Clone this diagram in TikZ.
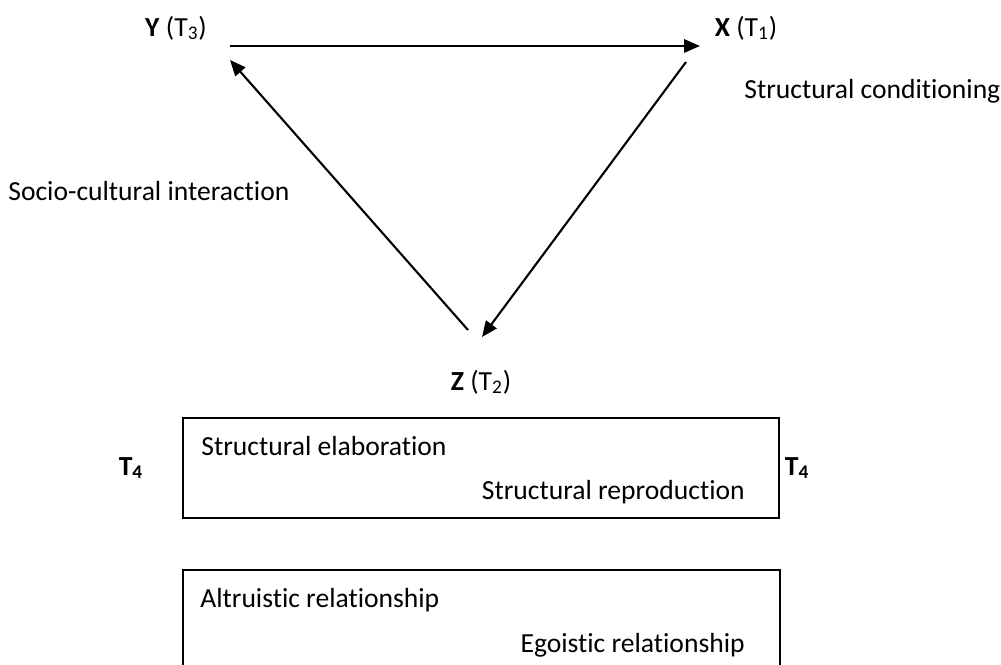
\documentclass[tikz,border=0pt]{standalone}
\usepackage{fontspec}
\setmainfont{Carlito}[Ligatures=NoCommon]
\usetikzlibrary{arrows.meta, positioning}

\tikzset{
  lbl/.style={inner sep=0pt, font=\fontsize{15.7}{18}\selectfont},
  tri/.style={line width=1.2pt, -{Triangle[length=9pt, width=7.5pt]}},
  bx/.style={draw, line width=0.9pt}
}

\begin{document}
\begin{tikzpicture}[x=0.02cm, y=-0.02cm]
\clip (0,0) rectangle (1001,665);
\useasboundingbox (0,0) rectangle (1001,665);
% vertices of the triangle
\node[lbl] (Y) at (176,28) {\textbf{Y} (T\textsubscript{3})};
\node[lbl] (X) at (746,28) {\textbf{X} (T\textsubscript{1})};
\node[lbl] (Z) at (481,382) {\textbf{Z} (T\textsubscript{2})};
\coordinate (ya) at (230,46);
\coordinate (yb) at (230,60);
\coordinate (xa) at (700,46);
\coordinate (xb) at (686,62);
\coordinate (za) at (482,337);
\coordinate (zb) at (468,330);
\draw[tri] (ya) -- (xa);
\draw[tri] (xb) -- (za);
\draw[tri] (zb) -- (yb);
\node[lbl, anchor=west] (cond) at (744,91) {Structural conditioning};
\node[lbl, anchor=west] (inter) at (8,191) {Socio-cultural interaction};
% boxes
\draw[bx] (183,418) rectangle (779,518);
\node[lbl, anchor=west] (elab) at (201,446) {Structural elaboration};
\node[lbl, anchor=east] (repr) at (745,492) {Structural reproduction};
\node[lbl] (tl) at (131,468) {\textbf{T\textsubscript{4}}};
\node[lbl] (tr) at (797,468) {\textbf{T\textsubscript{4}}};
\draw[bx] (183,570) rectangle (780,700);
\node[lbl, anchor=west] (altr) at (200,600) {Altruistic relationship};
\node[lbl, anchor=east] (ego) at (745,645) {Egoistic relationship};
\end{tikzpicture}
\end{document}
